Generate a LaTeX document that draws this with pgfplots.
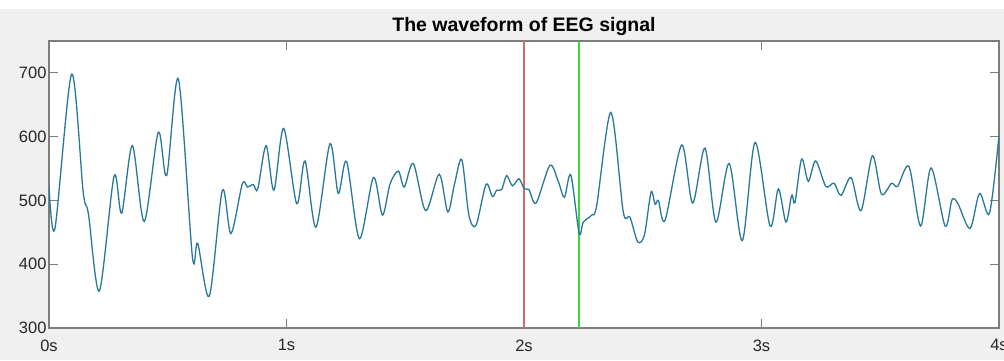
\documentclass[border=0pt]{standalone}
\usepackage{fontspec}
\setmainfont{Liberation Sans}
\usepackage{pgfplots}
\pgfplotsset{compat=1.18}
\definecolor{figgray}{RGB}{240,240,240}
\definecolor{axgray}{RGB}{125,125,125}
\definecolor{sig}{RGB}{40,120,155}
\definecolor{vred}{RGB}{200,110,110}
\definecolor{vgreen}{RGB}{60,215,60}
\begin{document}
\begin{tikzpicture}
\path[use as bounding box,fill=figgray] (-49pt,-32pt) rectangle (955pt,328pt);
\fill[white] (-49pt,319pt) rectangle (955pt,328pt);
\begin{axis}[
  scale only axis, width=950pt, height=287pt,
  xmin=0, xmax=4, ymin=300, ymax=750,
  axis background/.style={fill=white},
  axis line style={axgray, line width=1.2pt},
  xtick={0,1,2,3,4}, xticklabels={0s,1s,2s,3s,4s},
  ytick={300,400,500,600,700},
  tick align=inside, major tick length=9pt,
  every tick/.style={axgray, line width=1pt},
  /pgf/number format/assume math mode=true,
  ticklabel style={font=\fontsize{16.5}{19}\selectfont, text=black!85},
  xticklabel style={yshift=-8pt},
  yticklabel style={xshift=1pt},
  title={The waveform of EEG signal},
  title style={font=\fontsize{19.5}{23}\selectfont\bfseries, at={(0.5,1)}, anchor=base, yshift=4pt},
]
\addplot[vred, line width=1.5pt] coordinates {(2,300) (2,750)};
\addplot[vgreen, line width=1.5pt] coordinates {(2.232,300) (2.232,750)};
\addplot[sig, line width=1.3pt, smooth, tension=0.5] coordinates {
(0.000,523) (0.025,456) (0.0955,698) (0.144,513) (0.166,479) (0.212,358)
(0.274,538) (0.306,480) (0.351,586) (0.401,467) (0.460,607) (0.4955,539)
(0.545,690) (0.604,411) (0.626,433) (0.675,350) (0.730,516) (0.766,448)
(0.814,526) (0.836,521) (0.860,525) (0.879,518) (0.914,586) (0.947,516)
(0.988,613) (1.043,495) (1.078,562) (1.124,458) (1.183,589) (1.218,511)
(1.253,561) (1.307,440) (1.366,536) (1.404,477) (1.436,526) (1.471,546)
(1.496,521) (1.534,558) (1.586,484) (1.643,541) (1.679,482) (1.707,525)
(1.738,564) (1.768,477) (1.798,461) (1.840,525) (1.867,506) (1.885,516)
(1.906,517) (1.927,539) (1.951,523) (1.979,534) (2.001,518) (2.021,517)
(2.051,496) (2.109,555) (2.145,529) (2.170,505) (2.197,540) (2.232,449)
(2.250,466) (2.285,477) (2.306,492) (2.366,638) (2.418,482) (2.446,474)
(2.479,435) (2.507,446) (2.535,513) (2.552,494) (2.566,500) (2.594,469)
(2.664,587) (2.710,496) (2.762,582) (2.808,466) (2.864,558) (2.919,437)
(2.973,591) (3.036,460) (3.071,518) (3.103,466) (3.127,508) (3.141,497)
(3.169,565) (3.197,530) (3.228,562) (3.271,522) (3.305,527) (3.335,508)
(3.377,536) (3.419,484) (3.467,570) (3.505,510) (3.548,527) (3.573,522)
(3.621,553) (3.670,460) (3.714,551) (3.773,460) (3.802,501) (3.827,495)
(3.878,456) (3.918,511) (3.960,480) (4.000,602)
};
\end{axis}
\end{tikzpicture}
\end{document}
